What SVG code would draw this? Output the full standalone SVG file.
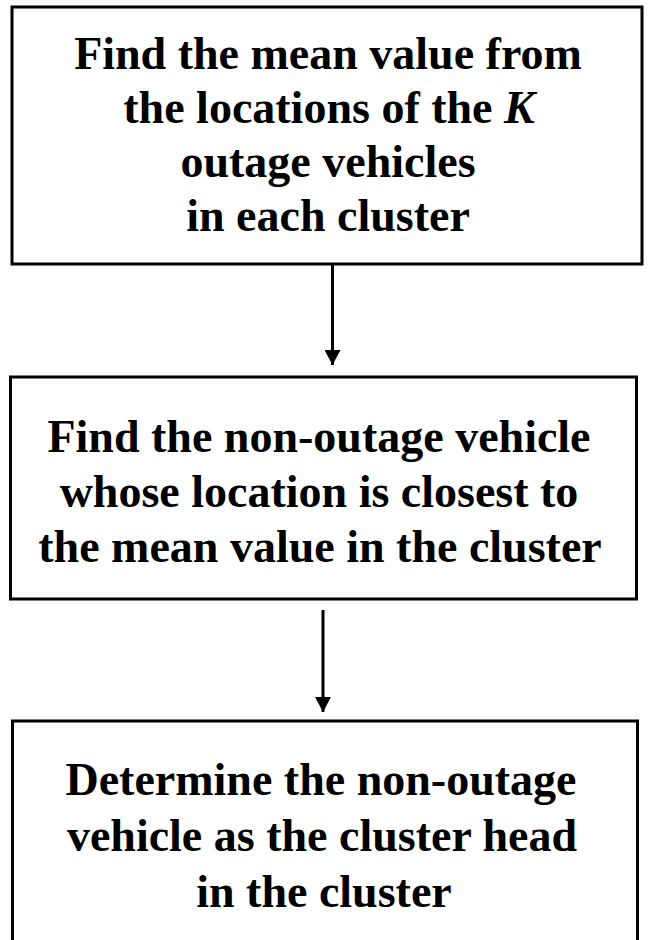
<svg xmlns="http://www.w3.org/2000/svg" width="649" height="940" viewBox="0 0 649 940">
  <style>
    .box { fill: #ffffff; stroke: #000000; stroke-width: 3; }
    .label { font-family: "Liberation Serif", "Times New Roman", serif; font-weight: bold; font-size: 46px; fill: #000000; text-anchor: middle; }
    .conn { stroke: #000000; stroke-width: 3; fill: none; }
  </style>
  <defs>
    <marker id="arrow" viewBox="0 0 15 16" refX="15" refY="8" markerWidth="15" markerHeight="16" orient="auto" markerUnits="userSpaceOnUse">
      <path d="M0,0 L15,8 L0,16 Z" fill="#000000"/>
    </marker>
  </defs>
  <rect width="649" height="940" fill="#ffffff"/>

  <g id="node-mean">
    <rect class="box" x="12" y="7" width="630" height="257"/>
    <text class="label" x="328" y="69">Find the mean value from</text>
    <text class="label" x="329" y="123">the locations of the <tspan font-style="italic">K</tspan></text>
    <text class="label" x="328" y="177">outage vehicles</text>
    <text class="label" x="328" y="231">in each cluster</text>
  </g>

  <g id="node-closest">
    <rect class="box" x="10.5" y="377" width="626" height="222"/>
    <text class="label" x="319" y="452">Find the non-outage vehicle</text>
    <text class="label" x="319" y="507">whose location is closest to</text>
    <text class="label" x="320" y="562">the mean value in the cluster</text>
  </g>

  <g id="node-head">
    <rect class="box" x="12.5" y="721" width="625" height="240"/>
    <text class="label" x="321" y="795">Determine the non-outage</text>
    <text class="label" x="322" y="851">vehicle as the cluster head</text>
    <text class="label" x="324" y="907">in the cluster</text>
  </g>

  <g id="connectors">
    <line class="conn" x1="332.5" y1="264" x2="332.5" y2="365" marker-end="url(#arrow)"/>
    <line class="conn" x1="323" y1="610" x2="323" y2="712" marker-end="url(#arrow)"/>
  </g>
</svg>
